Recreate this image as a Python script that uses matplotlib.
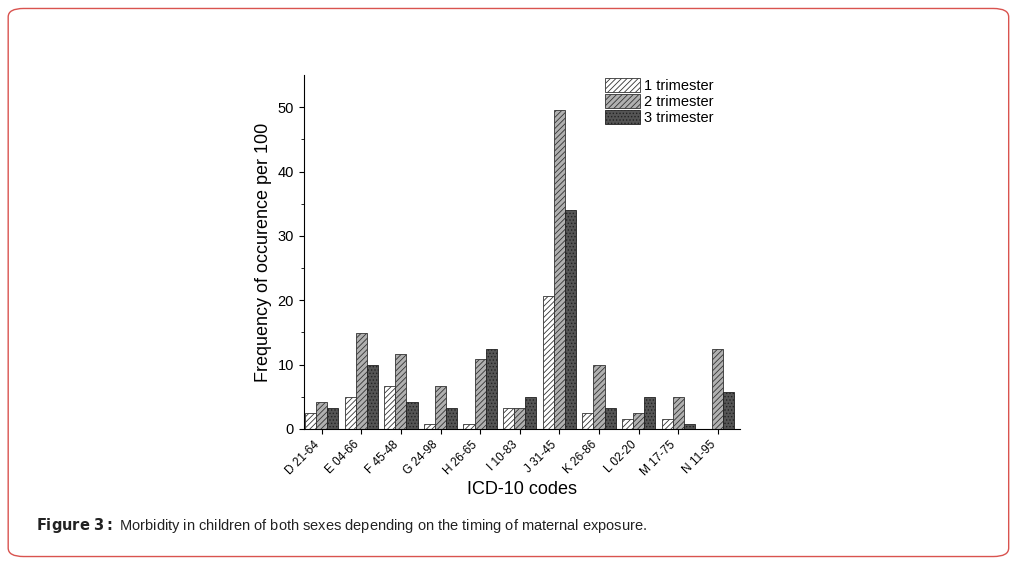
import numpy as np
import matplotlib.pyplot as plt
from matplotlib.patches import FancyBboxPatch

codes = ['D 21-64', 'E 04-66', 'F 45-48', 'G 24-98', 'H 26-65', 'I 10-83',
         'J 31-45', 'K 26-86', 'L 02-20', 'M 17-75', 'N 11-95']
tri1 = [2.5, 5.0, 6.7, 0.8, 0.8, 3.3, 20.7, 2.5, 1.6, 1.6, 0.0]
tri2 = [4.2, 14.9, 11.6, 6.7, 10.8, 3.3, 49.6, 10.0, 2.5, 5.0, 12.4]
tri3 = [3.3, 10.0, 4.2, 3.3, 12.4, 5.0, 34.0, 3.3, 5.0, 0.8, 5.8]

plt.rcParams['font.family'] = ['Liberation Sans', 'DejaVu Sans']
plt.rcParams['hatch.linewidth'] = 0.6

fig = plt.figure(figsize=(10.23, 5.65), dpi=100)
fig.patches.append(FancyBboxPatch((0.008, 0.015), 0.978, 0.97, boxstyle='round,pad=0,rounding_size=0.015',
                                  transform=fig.transFigure, fill=False, edgecolor='#d9534f', linewidth=1))

ax = fig.add_axes([0.297, 0.241, 0.426, 0.626])
x = np.arange(len(codes))
w = 0.28
ax.bar(x - w, tri1, w, color='white', edgecolor='#333333', hatch='//////', linewidth=0.6, label='1 trimester')
ax.bar(x, tri2, w, color='#b0b0b0', edgecolor='#333333', hatch='//////', linewidth=0.6, label='2 trimester')
ax.bar(x + w, tri3, w, color='#555555', edgecolor='#222222', hatch='.....', linewidth=0.6, label='3 trimester')

ax.set_xlim(-0.45, 10.55)
ax.set_ylim(0, 55)
ax.set_yticks(range(0, 51, 10))
ax.set_yticks(range(5, 55, 10), minor=True)
ax.set_xticks(x)
ax.set_xticklabels(codes, rotation=45, ha='right', fontsize=8.5)
ax.tick_params(axis='y', labelsize=10.5)
ax.spines['top'].set_visible(False)
ax.spines['right'].set_visible(False)
ax.set_xlabel('ICD-10 codes', fontsize=13, labelpad=2)
ax.set_ylabel('Frequency of occurence per 100', fontsize=13)
ax.legend(loc='upper left', bbox_to_anchor=(0.66, 1.03), frameon=False, fontsize=10.5,
          handlelength=2.4, handleheight=1.1, labelspacing=0.1, handletextpad=0.3)

fig.text(0.035, 0.062, r'$\bf{Figure\ 3:}$ Morbidity in children of both sexes depending on the timing of maternal exposure.',
         fontsize=10.5, color='#222222')
fig.savefig('out.png', dpi=100)
